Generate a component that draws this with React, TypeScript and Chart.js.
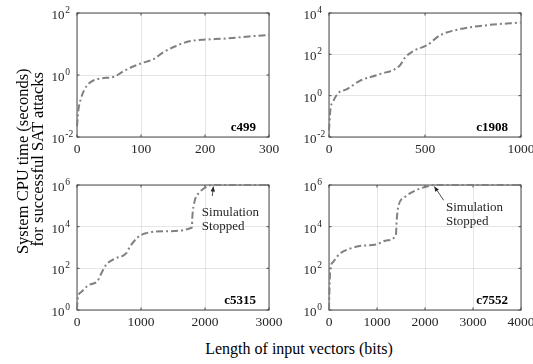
import React, { useEffect, useRef } from "react";
import { Chart, registerables } from "chart.js";
Chart.register(...registerables);

const FONT = '"Liberation Serif", "Times New Roman", serif';
const LINE_COLOR = "rgb(128,128,128)";
const GRID_COLOR = "rgba(38,38,38,0.12)";
const FRAME_COLOR = "#4a4a4a";
const TEXT_COLOR = "#262626";

// c499
const c499X = [0, 2, 6, 11, 19, 27, 38, 59, 69, 85, 101, 119, 135, 153, 174, 195, 232, 268, 300];
const c499Y = [0.022, 0.07, 0.17, 0.32, 0.54, 0.69, 0.78, 0.89, 1.2, 1.78, 2.4, 3.2, 5.4, 8.3, 12, 13.6, 15, 17.5, 19.5];
const c499XTicks = [0, 100, 200, 300];
const c499YExps = [-2, 0, 2];

// c1908
const c1908X = [0, 7, 21, 47, 91, 160, 265, 369, 395, 439, 509, 578, 683, 822, 1000];
const c1908Y = [0.021, 0.2, 0.5, 1.3, 2, 5.2, 11, 29, 68, 145, 270, 830, 1660, 2570, 3470];
const c1908XTicks = [0, 500, 1000];
const c1908YExps = [-2, 0, 2, 4];

// c5315
const c5315X = [0, 10, 63, 168, 325, 377, 456, 587, 771, 823, 954, 1059, 1374, 1793, 1804, 1835, 1925, 2056, 2108, 3000];
const c5315Y = [1.05, 3.4, 7.1, 14.8, 25.7, 55, 148, 288, 537, 1047, 3162, 4677, 6026, 8913, 35481, 154882, 478630, 912011, 1e6, 1e6];
const c5315XTicks = [0, 1000, 2000, 3000];
const c5315YExps = [0, 2, 4, 6];

// c7552
const c7552X = [0, 14, 28, 84, 223, 432, 641, 990, 1199, 1394, 1408, 1443, 1582, 1826, 2105, 2175, 4000];
const c7552Y = [1.05, 21, 95, 200, 500, 871, 1175, 1413, 2188, 3890, 16982, 89125, 269153, 575440, 933254, 1e6, 1e6];
const c7552XTicks = [0, 1000, 2000, 3000, 4000];
const c7552YExps = [0, 2, 4, 6];

const noteLines = ["Simulation", "Stopped"];
const yTitleLines = ["System CPU time (seconds)", "for successful SAT attacks"];
const xTitle = "Length of input vectors (bits)";

type Note = { x: number; tailDx: number; tailDy: number; textDx: number; l1Dy: number; l2Dy: number };

type PanelProps = {
  xs: number[];
  ys: number[];
  xTicks: number[];
  yExps: number[];
  name: string;
  note?: Note;
  left: number;
  top: number;
  width: number;
  height: number;
  padR: number;
  padT: number;
  padB: number;
};

function drawPow(ctx: CanvasRenderingContext2D, x: number, y: number, exp: number) {
  ctx.fillStyle = TEXT_COLOR;
  ctx.textAlign = "left";
  ctx.textBaseline = "middle";
  ctx.font = `13px ${FONT}`;
  ctx.fillText("10", x, y + 2.5);
  const w = ctx.measureText("10").width;
  ctx.font = `9.5px ${FONT}`;
  ctx.fillText(String(exp), x + w + 0.8, y - 2.5);
}

function Panel(p: PanelProps) {
  const ref = useRef<HTMLCanvasElement | null>(null);
  useEffect(() => {
    const canvas = ref.current!;
    const yVals = p.yExps.map((e) => Math.pow(10, e));
    const yMin = yVals[0];
    const yMax = yVals[yVals.length - 1];
    const xMin = p.xTicks[0];
    const xMax = p.xTicks[p.xTicks.length - 1];
    const deco = {
      id: "deco",
      beforeDatasetsDraw(chart: any) {
        const { ctx, chartArea: a, scales } = chart;
        ctx.save();
        ctx.strokeStyle = FRAME_COLOR;
        ctx.lineWidth = 1;
        ctx.strokeRect(a.left, a.top, a.right - a.left, a.bottom - a.top);
        const tl = 2.5;
        ctx.beginPath();
        for (const v of p.xTicks) {
          const px = scales.x.getPixelForValue(v);
          ctx.moveTo(px, a.bottom);
          ctx.lineTo(px, a.bottom - tl);
          ctx.moveTo(px, a.top);
          ctx.lineTo(px, a.top + tl);
        }
        for (const v of yVals) {
          const py = scales.y.getPixelForValue(v);
          ctx.moveTo(a.left, py);
          ctx.lineTo(a.left + tl, py);
          ctx.moveTo(a.right, py);
          ctx.lineTo(a.right - tl, py);
        }
        ctx.stroke();
        ctx.restore();
      },
      afterDraw(chart: any) {
        const { ctx, chartArea: a, scales } = chart;
        ctx.save();
        p.yExps.forEach((e, i) => {
          const py = scales.y.getPixelForValue(yVals[i]);
          drawPow(ctx, a.left - 25.5, py, e);
        });
        ctx.fillStyle = "#000";
        ctx.font = `bold 13px ${FONT}`;
        ctx.textAlign = "right";
        ctx.textBaseline = "alphabetic";
        ctx.fillText(p.name, a.right - 13, a.bottom - 6);
        if (p.note) {
          const n = p.note;
          const tx = scales.x.getPixelForValue(n.x);
          const ty = scales.y.getPixelForValue(yMax) + 1.5;
          const sx = tx + n.tailDx;
          const sy = ty + n.tailDy;
          ctx.strokeStyle = TEXT_COLOR;
          ctx.fillStyle = TEXT_COLOR;
          ctx.lineWidth = 0.8;
          ctx.beginPath();
          ctx.moveTo(sx, sy);
          ctx.lineTo(tx, ty);
          ctx.stroke();
          const ang = Math.atan2(ty - sy, tx - sx);
          const hl = 5, hw = 2.2;
          ctx.beginPath();
          ctx.moveTo(tx, ty);
          ctx.lineTo(tx - hl * Math.cos(ang) + hw * Math.sin(ang), ty - hl * Math.sin(ang) - hw * Math.cos(ang));
          ctx.lineTo(tx - hl * Math.cos(ang) - hw * Math.sin(ang), ty - hl * Math.sin(ang) + hw * Math.cos(ang));
          ctx.closePath();
          ctx.fill();
          ctx.font = `13px ${FONT}`;
          ctx.textAlign = "left";
          ctx.textBaseline = "alphabetic";
          ctx.fillText(noteLines[0], tx + n.textDx, ty + n.l1Dy);
          ctx.fillText(noteLines[1], tx + n.textDx, ty + n.l2Dy);
        }
        ctx.restore();
      },
    };
    const chart = new Chart(canvas, {
      type: "line",
      data: {
        datasets: [
          {
            data: p.xs.map((x, i) => ({ x, y: p.ys[i] })),
            borderColor: LINE_COLOR,
            borderWidth: 2,
            borderDash: [7, 3, 2, 3],
            cubicInterpolationMode: "monotone",
            pointRadius: 0,
            fill: false,
            clip: 4,
          } as any,
        ],
      },
      options: {
        animation: false,
        responsive: false,
        devicePixelRatio: 1,
        layout: { padding: { left: 0, right: p.padR, top: p.padT, bottom: p.padB } },
        plugins: { legend: { display: false }, tooltip: { enabled: false } },
        scales: {
          x: {
            type: "linear",
            min: xMin,
            max: xMax,
            afterBuildTicks: (s: any) => {
              s.ticks = p.xTicks.map((v) => ({ value: v }));
            },
            afterFit: (s: any) => {
              s.height = 22;
              s.paddingLeft = 0;
              s.paddingRight = 0;
              s.paddingTop = 0;
              s.paddingBottom = 0;
            },
            grid: { color: GRID_COLOR, drawTicks: false, lineWidth: 1 },
            border: { display: false },
            ticks: {
              font: { family: FONT, size: 13.5 },
              color: TEXT_COLOR,
              padding: 4,
              maxRotation: 0,
              autoSkip: false,
              callback: (v: any) => String(v),
            },
          },
          y: {
            type: "logarithmic",
            min: yMin,
            max: yMax,
            afterBuildTicks: (s: any) => {
              s.ticks = yVals.map((v) => ({ value: v }));
            },
            afterFit: (s: any) => {
              s.width = 47;
              s.paddingLeft = 0;
              s.paddingRight = 0;
              s.paddingTop = 0;
              s.paddingBottom = 0;
            },
            grid: { color: GRID_COLOR, drawTicks: false, lineWidth: 1 },
            border: { display: false },
            ticks: { display: false },
          },
        },
      } as any,
      plugins: [deco],
    });
    return () => chart.destroy();
  }, []);
  return (
    <canvas
      ref={ref}
      width={p.width}
      height={p.height}
      style={{ position: "absolute", left: p.left, top: p.top, width: p.width, height: p.height, display: "block" }}
    />
  );
}

function RotLine({ text, cx, cy }: { text: string; cx: number; cy: number }) {
  return (
    <div
      style={{
        position: "absolute",
        left: cx - 150,
        top: cy - 8.25,
        width: 300,
        height: 16.5,
        transform: "rotate(-90deg)",
        textAlign: "center",
        fontFamily: FONT,
        fontSize: 16.5,
        lineHeight: "16.5px",
        color: "#000",
        whiteSpace: "nowrap",
      }}
    >
      {text}
    </div>
  );
}

export default function App() {
  return (
    <div style={{ position: "absolute", left: 0, top: 0, width: 533, height: 364, background: "#fff", overflow: "hidden" }}>
      <Panel xs={c499X} ys={c499Y} xTicks={c499XTicks} yExps={c499YExps} name="c499"
        left={30} top={0} width={256} height={160} padR={17} padT={13} padB={1} />
      <Panel xs={c1908X} ys={c1908Y} xTicks={c1908XTicks} yExps={c1908YExps} name="c1908"
        left={282} top={0} width={251} height={160} padR={12} padT={13} padB={1} />
      <Panel xs={c5315X} ys={c5315Y} xTicks={c5315XTicks} yExps={c5315YExps} name="c5315"
        note={{ x: 2130, tailDx: -1, tailDy: 9.5, textDx: -11.5, l1Dy: 29, l2Dy: 43 }}
        left={30} top={170} width={256} height={162} padR={17} padT={15} padB={0} />
      <Panel xs={c7552X} ys={c7552Y} xTicks={c7552XTicks} yExps={c7552YExps} name="c7552"
        note={{ x: 2194, tailDx: 9.4, tailDy: 13.8, textDx: 11.7, l1Dy: 24, l2Dy: 38 }}
        left={282} top={170} width={251} height={162} padR={12} padT={15} padB={0} />
      <RotLine text={yTitleLines[0]} cx={23} cy={161.5} />
      <RotLine text={yTitleLines[1]} cx={37.8} cy={159} />
      <div
        style={{
          position: "absolute",
          left: 99,
          top: 340,
          width: 400,
          textAlign: "center",
          fontFamily: FONT,
          fontSize: 16,
          lineHeight: "18px",
          color: "#000",
          whiteSpace: "nowrap",
        }}
      >
        {xTitle}
      </div>
    </div>
  );
}
